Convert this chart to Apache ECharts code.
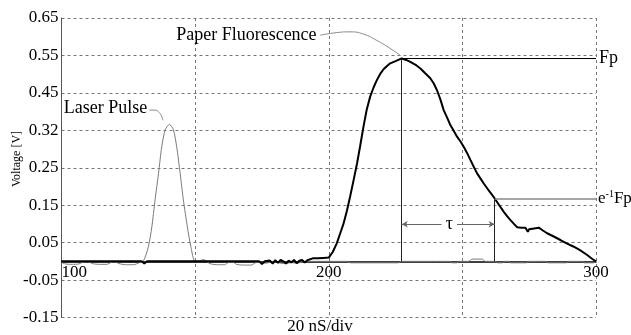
<!DOCTYPE html>
<html><head><meta charset="utf-8">
<script src="https://cdn.jsdelivr.net/npm/echarts@6/dist/echarts.min.js"></script>
<style>html,body{margin:0;padding:0;background:#fff}#c{width:631px;height:335px}</style>
</head><body><div id="c"></div>
<script>
// tick labels as printed on the original
const yTickLabels = ['-0.15','-0.05','0.05','0.15','0.25','0.32','0.45','0.55','0.65'];
const xTickLabels = ['100','200','300'];

// fluorescence trace (time, volts)
const fluorescence = [
[100,0],[130,0],[131,-0.006],[132,0],[150,0],[174,0],[175,-0.007],[176,0],[178,0.002],[179,-0.006],
[180,0.003],[181,-0.004],[182,0.004],[183,0],[184,-0.006],[185,0.002],[186,-0.003],[187,0.004],[188,-0.005],
[189,0.002],[190,0.004],[191,-0.003],[192,0.003],[194,0.008],[196,0.008],[198,0.009],[200,0.01],
[200.3,0.012],[201.5,0.025],[203,0.048],[204.3,0.075],[205.5,0.10],[206.8,0.135],[208,0.173],[209.3,0.217],
[210.6,0.262],[211.8,0.31],[213,0.36],[214.2,0.405],[215.5,0.44],[216.8,0.465],[218,0.484],[219.2,0.5],
[220.5,0.513],[221.8,0.522],[223,0.529],[225,0.535],[227.3,0.542],[229,0.538],[230.5,0.533],[232.5,0.525],
[234.3,0.515],[236,0.503],[238,0.489],[239.3,0.475],[240.5,0.457],[241.8,0.432],[243,0.404],[244.3,0.384],
[245.5,0.364],[246.8,0.348],[248,0.333],[249.3,0.32],[250.5,0.306],[251.8,0.289],[253,0.271],[254.3,0.252],
[255.5,0.235],[256.8,0.221],[258,0.208],[260,0.188],[262.1,0.168],[263.8,0.15],[265.5,0.132],[266.8,0.12],
[268,0.11],[269.3,0.1],[270.5,0.091],[272,0.09],[273.6,0.09],[274.2,0.085],[274.5,0.079],[275,0.086],
[275.6,0.09],[278.6,0.09],[280,0.083],[281.7,0.075],[284,0.067],[286.7,0.057],[289,0.048],[291.7,0.039],
[294,0.03],[296.7,0.017],[298.5,0.007],[300,0]
];

// laser pulse trace (time, volts)
const laserPulse = [
[100,-0.003],[101.5,-0.007],[104,-0.008],[106.5,-0.007],[108,-0.002],[110,-0.001],[111.5,-0.006],[114,-0.008],
[117,-0.008],[118.5,-0.003],[120,-0.001],[121.5,-0.006],[124,-0.009],[127,-0.009],[129,-0.004],[130.6,0],
[132.5,0.039],[133.8,0.092],[135,0.164],[136.3,0.235],[137.5,0.306],[138.8,0.351],[140.4,0.366],[141.9,0.351],
[143.1,0.306],[144.4,0.235],[145.6,0.164],[147.1,0.092],[148.4,0.039],[150,0],[152,0.001],[153,0.005],[154,0.002],
[155.5,-0.006],[158,-0.009],[161,-0.009],[162.5,-0.003],[164,-0.002],[165.5,-0.008],[168,-0.01],[171,-0.01],
[172.5,-0.004],[174,-0.002],[176,-0.005],[178,-0.003],[180,-0.001],[182,-0.005],[184,-0.006],[186,-0.003],
[188,-0.005],[190,-0.002],[193,0],[207,0],[208,-0.004],[226,-0.004],[227,0],[245.5,0],[246,-0.004],[248,-0.004],
[248.5,0],[252.5,0],[253.5,0.006],[257.5,0.006],[258.5,0],[262.5,0],[263,-0.004],[265,-0.004],[265.5,0],
[267.5,0],[268,-0.004],[274,-0.004],[274.5,0],[281.5,0],[282,-0.004],[289,-0.004],[289.5,0],[295,0],
[295.5,-0.004],[299,-0.004],[300,0]
];

// annotation anchors (data units)
const fpPeak = [227.3, 0.542];
const eFpPoint = [262.1, 0.168];
const tauLevel = 0.099;
const tauGap = [242.2, 248.0];
const tauText = [245.1, 0.099];
const paperLabelAt = [196.2, 0.605];
const laserLabelAt = [132.8, 0.41];
const paperLeader = [[196.8,0.604],[203,0.611],[208,0.613],[213,0.607],[218,0.59],[222.5,0.571],[226.8,0.55]];
const laserLeader = [[132.9,0.404],[135,0.404],[136.5,0.398],[137.6,0.385],[137.9,0.377]];

const serif = '"Liberation Serif", "Times New Roman", Times, serif';
const tickFont = 17;
const noteFont = 18;
const chart = echarts.init(document.getElementById('c'), null, {renderer:'canvas'});
const gridColor = '#777';

chart.setOption({
  animation: false,
  textStyle: {fontFamily: serif},
  grid: {left: 61.5, right: 35, top: 18, bottom: 17.5, containLabel: false},
  xAxis: {
    type: 'value', min: 100, max: 300, interval: 50, position: 'bottom', offset: 0,
    axisLine: {onZero: false, lineStyle: {color: '#000', width: 1.5}},
    axisTick: {show: false},
    axisLabel: {
      margin: 2, fontSize: tickFont, fontFamily: serif, color: '#000', alignMinLabel: 'left',
      formatter: v => (v % 100 === 0 ? xTickLabels[Math.round((v - 100) / 100)] : '')
    },
    splitLine: {show: true, lineStyle: {color: gridColor, type: [3, 3], width: 1}}
  },
  yAxis: {
    type: 'value', min: -0.15, max: 0.65, interval: 0.1,
    axisLine: {show: true, lineStyle: {color: '#555', width: 1}},
    axisTick: {show: false},
    axisLabel: {
      margin: 3, fontSize: tickFont, fontFamily: serif, color: '#000',
      formatter: v => yTickLabels[Math.round((v + 0.15) / 0.1)]
    },
    splitLine: {show: true, lineStyle: {color: gridColor, type: [3, 3], width: 1}}
  },
  graphic: [
    {type: 'text', x: 17, y: 159, rotation: Math.PI / 2,
     style: {text: 'Voltage [V]', fontSize: 12, fontFamily: serif, fill: '#000', align: 'center', verticalAlign: 'middle'}},
    {type: 'text', x: 320, y: 327,
     style: {text: '20 nS/div', fontSize: 17, fontFamily: serif, fill: '#000', align: 'center', verticalAlign: 'middle'}}
  ],
  series: [
    {
      name: 'Laser Pulse', type: 'line', data: laserPulse, showSymbol: false, smooth: 0.25,
      lineStyle: {color: '#7a7a7a', width: 1}, z: 3
    },
    {
      name: 'Paper Fluorescence', type: 'line', data: fluorescence, showSymbol: false,
      lineStyle: {color: '#000', width: 2}, z: 4,
      markLine: {
        silent: true, symbol: 'none', animation: false,
        label: {show: false},
        data: [
          [{coord: fpPeak, lineStyle: {color: '#000', width: 1, type: 'solid'},
            label: {show: true, position: 'end', distance: 3, formatter: 'Fp', fontSize: noteFont, fontFamily: serif, color: '#000'}},
           {coord: [300, fpPeak[1]]}],
          [{coord: fpPeak, lineStyle: {color: '#222', width: 1, type: 'solid'}}, {coord: [fpPeak[0], 0]}],
          [{coord: eFpPoint, lineStyle: {color: '#888', width: 1.5, type: 'solid'},
            label: {show: true, position: 'end', distance: 2, formatter: '{a|e}{s|-1}{a|Fp}',
              rich: {a: {fontSize: 17, fontFamily: serif, color: '#000'},
                     s: {fontSize: 10, fontFamily: serif, color: '#000', padding: [0, 0, 9, 0]}}}},
           {coord: [300, eFpPoint[1]]}],
          [{coord: eFpPoint, lineStyle: {color: '#222', width: 1, type: 'solid'}}, {coord: [eFpPoint[0], 0]}],
          [{coord: [tauGap[0], tauLevel], symbol: 'none', lineStyle: {color: '#666', width: 1, type: 'solid'}},
           {coord: [fpPeak[0], tauLevel], symbol: 'arrow', symbolSize: [5, 6]}],
          [{coord: [tauGap[1], tauLevel], symbol: 'none', lineStyle: {color: '#666', width: 1, type: 'solid'}},
           {coord: [eFpPoint[0], tauLevel], symbol: 'arrow', symbolSize: [5, 6]}]
        ]
      },
      markPoint: {
        silent: true, animation: false, symbol: 'circle', symbolSize: 0,
        data: [
          {coord: tauText, label: {show: true, position: 'inside', formatter: 'τ', fontSize: noteFont, fontFamily: serif, color: '#000'}},
          {coord: paperLabelAt, label: {show: true, position: 'left', distance: 2, formatter: 'Paper Fluorescence', fontSize: noteFont, fontFamily: serif, color: '#000'}},
          {coord: laserLabelAt, label: {show: true, position: 'left', distance: 2, formatter: 'Laser Pulse', fontSize: noteFont, fontFamily: serif, color: '#000'}}
        ]
      }
    },
    {
      name: 'leaderPaper', type: 'line', data: paperLeader, showSymbol: false, smooth: true,
      lineStyle: {color: '#888', width: 1}, z: 2
    },
    {
      name: 'leaderLaser', type: 'line', data: laserLeader, showSymbol: false, smooth: true,
      lineStyle: {color: '#888', width: 1}, z: 2
    }
  ]
});

// move the whole x axis (line + labels) up to the zero level, as in the original
const zeroY = chart.convertToPixel({yAxisIndex: 0}, 0);
const bottomY = chart.convertToPixel({yAxisIndex: 0}, -0.15);
chart.setOption({xAxis: {offset: -(bottomY - zeroY)}});
</script>
</body></html>
